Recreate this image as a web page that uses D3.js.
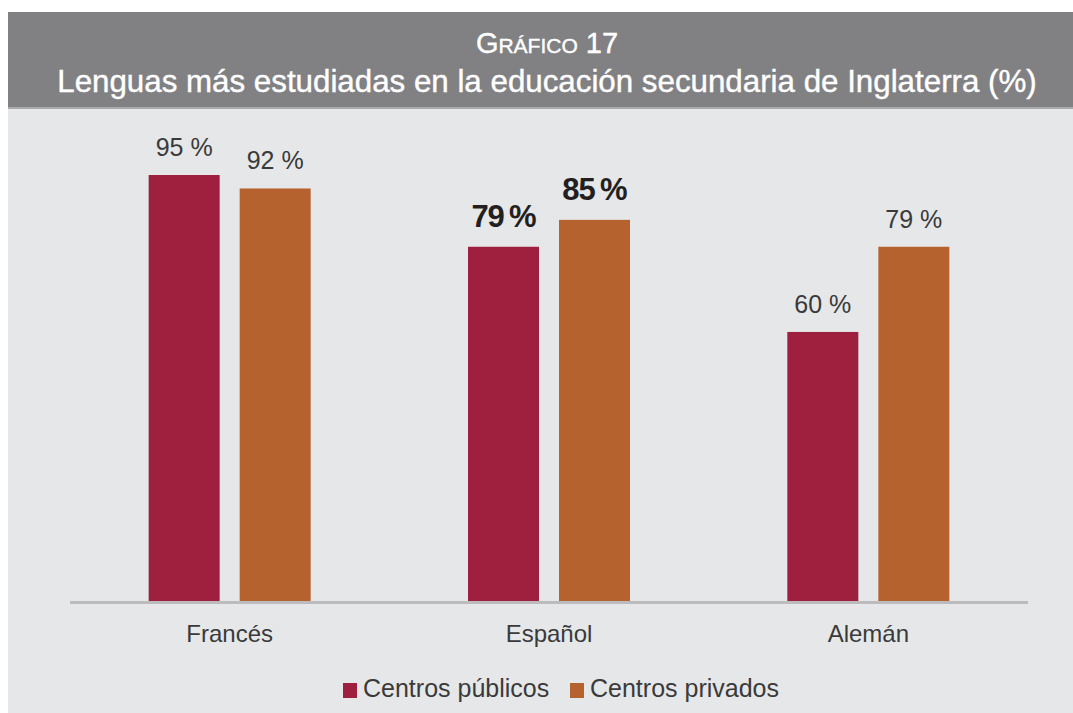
<!DOCTYPE html>
<html>
<head>
<meta charset="utf-8">
<script src="https://cdn.jsdelivr.net/npm/d3@7"></script>
<style>
  body { margin: 0; background: #fff; }
  svg text { font-family: "Liberation Sans", Arial, Helvetica, sans-serif; }
</style>
</head>
<body>
<div id="chart"></div>
<script>
// data
var categories = ["Francés", "Español", "Alemán"];
var seriesNames = ["Centros públicos", "Centros privados"];
var publicos = [95, 79, 60];
var privados = [92, 85, 79];
var boldCategory = "Español"; // the highlighted pair
var colors = ["#9e1f3e", "#b5622e"];

var W = 1073, H = 713;
var svg = d3.select("#chart").append("svg")
	.attr("width", W)
	.attr("height", H);

// panel + header
svg.append("rect").attr("x", 8).attr("y", 12).attr("width", W - 8).attr("height", H - 12).attr("fill", "#e6e7e9");
svg.append("rect").attr("x", 8).attr("y", 12).attr("width", W - 8).attr("height", 95).attr("fill", "#818184");
svg.append("rect").attr("x", 8).attr("y", 107).attr("width", W - 8).attr("height", 2).attr("fill", "#a9aaac");

var t1 = svg.append("text")
	.attr("x", 547).attr("y", 53)
	.attr("text-anchor", "middle")
	.attr("fill", "#fff")
	.attr("stroke", "#fff").attr("stroke-width", 0.4)
	.attr("font-size", 29);
t1.append("tspan").text("G");
t1.append("tspan").attr("font-size", 21).text("RÁFICO");
t1.append("tspan").text(" 17");

svg.append("text")
	.attr("x", 547).attr("y", 92)
	.attr("text-anchor", "middle")
	.attr("fill", "#fff")
	.attr("stroke", "#fff").attr("stroke-width", 0.4)
	.attr("font-size", 31.3)
	.text("Lenguas más estudiadas en la educación secundaria de Inglaterra (%)");

// scales
var x = d3.scaleBand().domain(categories).range([70, 1028]);
var y = d3.scaleLinear().domain([0, 100]).range([601, 152.6]);
var sub = d3.scaleBand().domain(seriesNames).range([-81, 81]).paddingInner(0.22).paddingOuter(0);

var rows = categories.map(function(c, i){
	return [
		{cat: c, s: seriesNames[0], v: publicos[i], k: 0},
		{cat: c, s: seriesNames[1], v: privados[i], k: 1}
	];
});

var groups = svg.selectAll(".grp")
	.data(rows)
	.enter().append("g")
	.attr("class", "grp")
	.attr("transform", function(d){ return "translate(" + (x(d[0].cat) + x.bandwidth()/2) + ",0)"; });

groups.selectAll("rect")
	.data(function(d){ return d; })
	.enter().append("rect")
	.attr("x", function(d){ return sub(d.s); })
	.attr("width", sub.bandwidth())
	.attr("y", function(d){ return y(d.v); })
	.attr("height", function(d){ return y(0) - y(d.v); })
	.attr("fill", function(d){ return colors[d.k]; });

groups.selectAll(".val")
	.data(function(d){ return d; })
	.enter().append("text")
	.attr("class", "val")
	.attr("x", function(d){ return sub(d.s) + sub.bandwidth()/2; })
	.attr("y", function(d){ return y(d.v) - (d.cat == boldCategory ? 20 : 19); })
	.attr("text-anchor", "middle")
	.attr("fill", function(d){ return d.cat == boldCategory ? "#231f20" : "#3a3a3a"; })
	.attr("font-size", function(d){ return d.cat == boldCategory ? 31 : 25; })
	.attr("font-weight", function(d){ return d.cat == boldCategory ? "bold" : "normal"; })
	.attr("letter-spacing", function(d){ return d.cat == boldCategory ? -1 : 0; })
	.text(function(d){ return d.cat == boldCategory ? d.v + "\u2009%" : d.v + " %"; });

// axis
var axis = svg.append("g")
	.attr("transform", "translate(0," + y(0) + ")")
	.call(d3.axisBottom(x).tickSize(0).tickPadding(23));
axis.select(".domain").attr("stroke", "#bcbcbe").attr("stroke-width", 3).attr("d", "M70,1.5H1028");
axis.selectAll("text")
	.attr("font-family", "Liberation Sans, Arial, sans-serif")
	.attr("font-size", 24)
	.attr("fill", "#3a3a3a")
	.attr("dy", "0.75em");

// legend
var legendX = [343, 570];
var leg = svg.selectAll(".leg")
	.data(seriesNames)
	.enter().append("g")
	.attr("class", "leg")
	.attr("transform", function(d, i){ return "translate(" + legendX[i] + ",683)"; });
leg.append("rect").attr("width", 14).attr("height", 15).attr("fill", function(d, i){ return colors[i]; });
leg.append("text")
	.attr("x", 20).attr("y", 14)
	.attr("font-size", 25)
	.attr("fill", "#3a3a3a")
	.text(function(d){ return d; });
</script>
</body>
</html>
